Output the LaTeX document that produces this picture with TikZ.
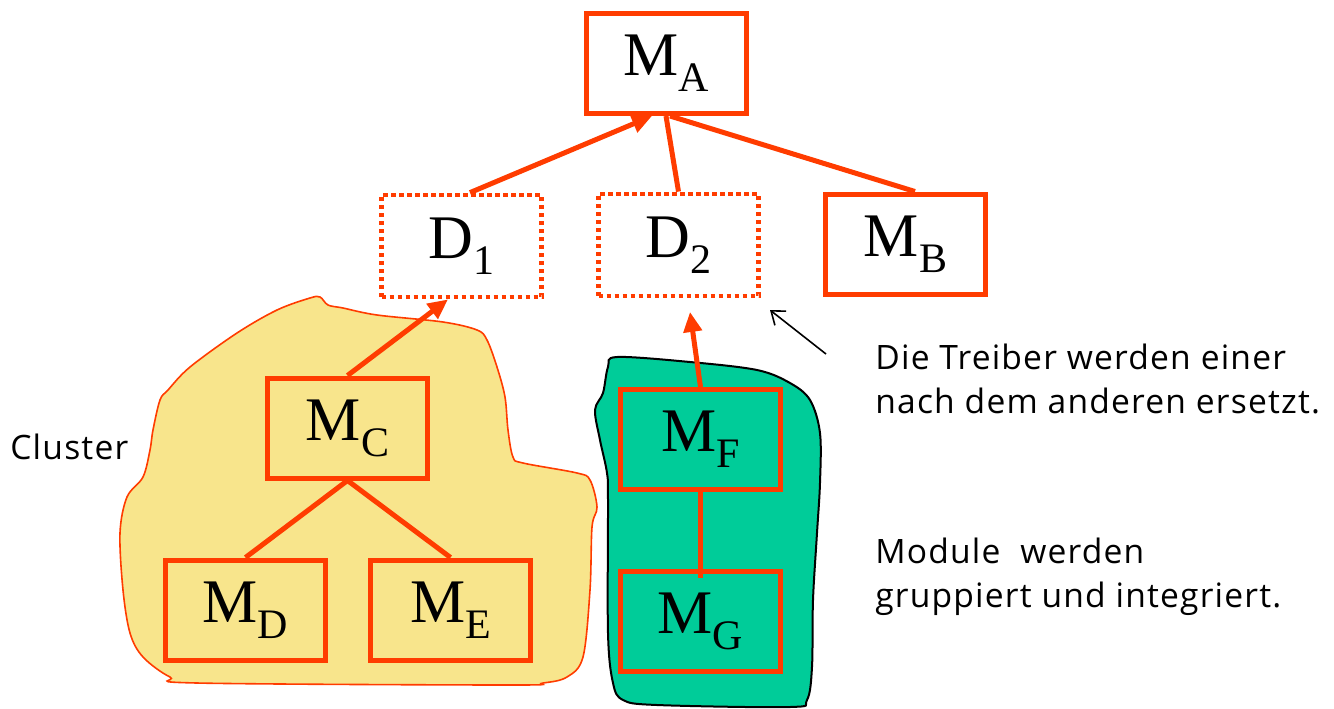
\documentclass[tikz,border=0pt]{standalone}
\usepackage{fontspec}
\setmainfont{Liberation Serif}
\newfontfamily\notefont[LetterSpace=3.5]{Open Sans}
\usetikzlibrary{arrows.meta}
\definecolor{redo}{RGB}{255,60,0}
\definecolor{yblob}{RGB}{248,229,140}
\definecolor{gblob}{RGB}{0,204,153}
\newcommand{\mlab}[2]{{\fontsize{31}{31}\selectfont #1}\raisebox{-8pt}{\fontsize{21}{21}\selectfont #2}}
\tikzset{
  modbox/.style={draw=redo, line width=2.5pt, minimum width=80pt, minimum height=50pt, inner sep=0pt},
  drvbox/.style={draw=redo, line width=2.4pt, dash pattern=on 2.2pt off 1.8pt, minimum width=80pt, minimum height=51pt, inner sep=0pt},
  conn/.style={draw=redo, line width=2.5pt},
  uparrow/.style={conn, -{Triangle[length=10pt,width=9pt]}},
  note/.style={anchor=base west, inner sep=0pt, font=\notefont\fontsize{16.8}{22}\selectfont, align=left},
}
\begin{document}
\begin{tikzpicture}[x=0.5pt,y=-0.5pt]
\useasboundingbox (0,0) rectangle (1334,708);
% blobs
\draw[draw=redo, line width=0.8pt, fill=yblob] plot[smooth cycle, tension=0.55] coordinates {
 (320,297) (328,305) (343,308) (377,315) (443,322) (477,330) (487,340) (497,367) (505,397) (508,430) (513,457) (523,463) (577,473) (590,480) (597,507) (592,527) (590,590) (583,657) (567,677) (543,683) (510,685) (197,683) (170,677) (143,657) (130,633) (123,590) (120,533) (127,497) (143,477) (150,450) (153,430) (160,400) (168,390) (190,367) (237,333) (277,310) (310,298)};
\draw[draw=black, line width=1pt, fill=gblob] plot[smooth cycle, tension=0.55] coordinates {
 (617,357) (690,362) (757,370) (790,383) (810,400) (820,433) (820,483) (817,533) (813,600) (812,667) (807,700) (790,707) (657,705) (623,700) (613,683) (608,633) (608,500) (607,473) (600,440) (595,410) (603,393) (608,367)};
% boxes
\node[modbox] (MA) at (666,63.5) {\mlab{M}{A}};
\node[modbox] (MB) at (905.5,244) {\mlab{M}{B}};
\node[drvbox] (D1) at (461.5,246) {\mlab{D}{1}};
\node[drvbox] (D2) at (678.5,245) {\mlab{D}{2}};
\node[modbox] (MC) at (347.5,428) {\mlab{M}{C}};
\node[modbox] (MD) at (245.5,610) {\mlab{M}{D}};
\node[modbox] (ME) at (450.5,610) {\raisebox{-4pt}{\mlab{M}{E}}};
\node[modbox] (MF) at (700.5,439.5) {\mlab{M}{F}};
\node[modbox] (MG) at (700.5,621) {\mlab{M}{G}};
% connectors
\draw[uparrow] ([xshift=4.25pt]D1.north) -- ([xshift=-7pt]MA.south);
\draw[conn] (D2.north) -- (MA.south);
\draw[conn] ([xshift=4.75pt]MB.north) -- ([xshift=2pt]MA.south);
\draw[uparrow] (MC.north) -- ([xshift=-6.75pt]D1.south);
\draw[conn] (MC.south) -- (MD.north);
\draw[conn] (MC.south) -- (ME.north);
\draw[uparrow] (MF.north) -- ([xshift=5.75pt,yshift=-6.75pt]D2.south);
\draw[conn] (MF.south) -- ([yshift=-4.5pt]MG.north);
% annotation arrow
\coordinate (notetail) at (826,354);
\coordinate (notetip) at (770,310);
\draw[line width=0.8pt, -{Straight Barb[length=6pt,width=9pt]}] (notetail) -- (notetip);
% texts
\node[note] (cl) at (10,459) {Cluster};
\node[note] (t1) at (875,369) {Die Treiber werden einer};
\node[note] (t2) at (875,413) {nach dem anderen ersetzt.};
\node[note] (t3) at (875,563) {Module\ \ werden};
\node[note] (t4) at (875,607) {gruppiert und integriert.};
\end{tikzpicture}
\end{document}
